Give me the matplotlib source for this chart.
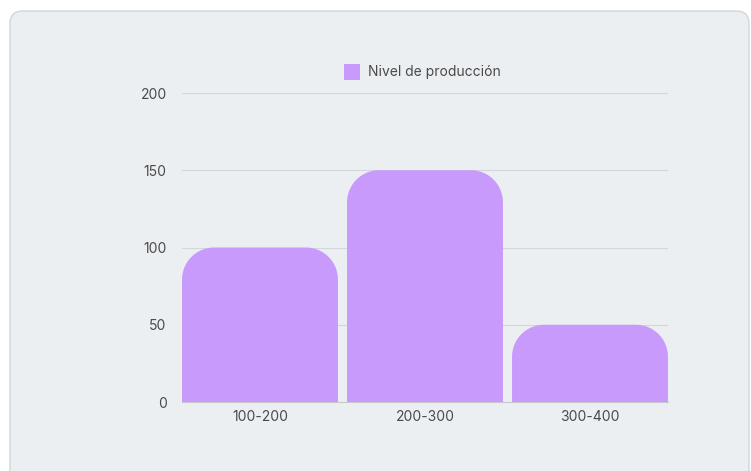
import numpy as np
import matplotlib
matplotlib.use('Agg')
import matplotlib.pyplot as plt
from matplotlib.patches import FancyBboxPatch, Rectangle
from matplotlib.path import Path
from matplotlib.patches import PathPatch

categories = ['100-200', '200-300', '300-400']
values = [100, 150, 50]
yticks = [0, 50, 100, 150, 200]
series_name = 'Nivel de producción'

bar_color = '#c79afc'
card_color = '#eceff2'
text_color = '#4a4a4a'
grid_color = '#d3d7db'

plt.rcParams['font.family'] = ['Inter', 'DejaVu Sans']

fig = plt.figure(figsize=(7.51, 4.71), dpi=100)
fig.patch.set_facecolor('white')

# card background
card = FancyBboxPatch((10/751, -0.05), 739/751, (471-11)/471 + 0.05,
                      boxstyle='round,pad=0,rounding_size=0.017',
                      transform=fig.transFigure, facecolor=card_color,
                      edgecolor='#d2d5d9', linewidth=1.0, zorder=-10,
                      mutation_aspect=751/471)
fig.patches.append(card)

ax = fig.add_axes([182/751, 1-402/471, (668-182)/751, (402-93)/471])
ax.set_zorder(1)
ax.set_facecolor('none')
ax.set_xlim(-0.4727, 2.4727)
ax.set_ylim(0, 200)

width = 0.945
# radius in pixels converted to data units
px_x = (668-182) / (2.4727 + 0.4727)
px_y = (402-93) / 200
r_px = 32
rx = r_px / px_x
ry = r_px / px_y


def rounded_top_bar(ax, xc, h, w, rx, ry, color):
    x0, x1 = xc - w/2, xc + w/2
    ry_eff = min(ry, h)
    t = np.linspace(0, np.pi/2, 20)
    verts = [(x0, 0), (x0, h - ry_eff)]
    # left top corner
    verts += [(x0 + rx - rx*np.cos(a), h - ry_eff + ry_eff*np.sin(a)) for a in t]
    verts += [(x1 - rx + rx*np.sin(a), h - ry_eff + ry_eff*np.cos(a)) for a in t]
    verts += [(x1, 0), (x0, 0)]
    codes = [Path.MOVETO] + [Path.LINETO]*(len(verts)-2) + [Path.CLOSEPOLY]
    ax.add_patch(PathPatch(Path(verts, codes), facecolor=color, edgecolor='none', zorder=3))


for i, v in enumerate(values):
    rounded_top_bar(ax, i, v, width, rx, ry, bar_color)

ax.set_yticks(yticks)
ax.set_xticks(range(len(categories)))
ax.set_xticklabels(categories)
ax.yaxis.grid(True, color=grid_color, linewidth=0.8, zorder=1)
ax.set_axisbelow(True)
for s in ['top', 'right', 'left']:
    ax.spines[s].set_visible(False)
ax.spines['bottom'].set_color('#c8c8cc')
ax.spines['bottom'].set_linewidth(0.8)
ax.tick_params(axis='both', length=0, colors=text_color, labelsize=10)
ax.tick_params(axis='y', pad=11)
ax.tick_params(axis='x', pad=6)

# legend
leg_box = Rectangle((344/751, 1-80/471), 16/751, 16/471,
                    transform=fig.transFigure, facecolor=bar_color,
                    edgecolor='none', zorder=2)
fig.patches.append(leg_box)
fig.text(368/751, 1-72/471, series_name, color=text_color, fontsize=10,
         va='center', ha='left')

fig.savefig('out.png', dpi=100, facecolor='white')
